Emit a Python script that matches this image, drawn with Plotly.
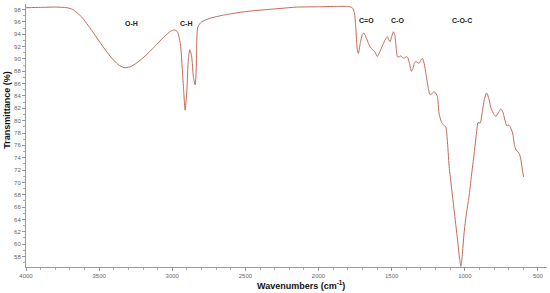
import plotly.graph_objects as go

wavenumber = [4000, 3900, 3800, 3720, 3680, 3620, 3550, 3480, 3420, 3370, 3330, 3290, 3240, 3180,
              3120, 3060, 3010, 2985, 2965, 2945, 2925, 2912, 2900, 2890, 2880, 2868, 2855, 2843,
              2835, 2825, 2800, 2740, 2650, 2550, 2450, 2350, 2250, 2150, 2000, 1900, 1800, 1770,
              1755, 1745, 1735, 1728, 1715, 1700, 1690, 1675, 1655, 1632, 1615, 1598, 1580, 1560,
              1540, 1529, 1518, 1511, 1500, 1488, 1478, 1468, 1461, 1450, 1438, 1425, 1415, 1400,
              1390, 1375, 1365, 1355, 1345, 1335, 1322, 1313, 1300, 1290, 1278, 1265, 1250, 1238,
              1225, 1210, 1195, 1187, 1176, 1160, 1146, 1130, 1120, 1107, 1090, 1073, 1050, 1035,
              1027, 1018, 1005, 990, 971, 955, 936, 920, 909, 895, 880, 865, 851, 838, 820, 800,
              787, 770, 753, 738, 725, 712, 700, 690, 673, 660, 650, 635, 625, 616, 605, 598]
transmittance = [98.3, 98.35, 98.4, 98.3, 98.0, 96.8, 94.6, 92.2, 90.3, 89.1, 88.6, 88.7, 89.4, 90.6,
                 92.0, 93.5, 94.5, 94.7, 94.4, 92.5, 86.0, 81.7, 85.0, 90.0, 91.5, 90.5, 87.0, 85.8,
                 89.0, 95.2, 96.0, 96.6, 97.1, 97.5, 97.8, 98.0, 98.2, 98.4, 98.45, 98.5, 98.5, 98.3,
                 97.5, 95.0, 91.5, 90.9, 92.5, 94.0, 94.2, 93.5, 92.3, 91.5, 91.2, 90.4, 91.2, 92.3,
                 93.3, 93.6, 93.0, 92.8, 93.6, 94.4, 93.8, 91.5, 90.4, 90.3, 90.5, 90.2, 90.1, 90.4,
                 90.2, 89.0, 88.0, 88.4, 89.3, 89.6, 89.4, 89.3, 89.8, 90.1, 89.3, 87.5, 85.3, 84.2,
                 84.4, 84.7, 84.3, 83.9, 81.2, 79.8, 79.3, 79.0, 77.0, 72.6, 69.0, 65.5, 60.8, 57.5,
                 56.4, 58.0, 61.8, 64.8, 67.7, 71.0, 74.7, 78.0, 79.7, 79.6, 81.5, 83.6, 84.5, 83.8,
                 82.0, 81.0, 80.7, 81.3, 81.9, 81.3, 80.0, 79.15, 79.3, 79.0, 78.0, 76.0, 75.3, 74.9,
                 74.5, 73.6, 71.8, 70.9]

band_labels = ["O-H", "C-H", "C=O", "C-O", "C-O-C"]
band_x = [3280, 2905, 1670, 1460, 1020]
band_y = [95.8, 95.8, 96.2, 96.2, 96.2]

fig = go.Figure()
fig.add_trace(go.Scatter(x=wavenumber, y=transmittance, mode="lines",
                         line=dict(color="#c26a58", width=1, shape="spline", smoothing=0.6),
                         showlegend=False, hoverinfo="skip"))

for t, x, y in zip(band_labels, band_x, band_y):
    fig.add_annotation(x=x, y=y, text="<b>" + t + "</b>", showarrow=False,
                       font=dict(family="Liberation Sans, Arial", size=7, color="#222"))

fig.add_annotation(xref="paper", yref="paper", x=0.527, y=-0.068, yanchor="middle",
                   text="<b>Wavenumbers (cm<sup>-1</sup>)</b>", showarrow=False,
                   font=dict(family="Liberation Sans, Arial", size=9, color="#111"))
fig.add_annotation(xref="paper", yref="paper", x=-0.037, y=0.597, textangle=-90,
                   xanchor="center", yanchor="middle",
                   text="<b>Transmittance (%)</b>", showarrow=False,
                   font=dict(family="Liberation Sans, Arial", size=9, color="#111"))

tickfont = dict(family="Liberation Sans, Arial", size=6, color="#666")
fig.update_layout(
    width=550, height=293,
    margin=dict(l=26, r=3, t=4, b=26, autoexpand=False),
    paper_bgcolor="white", plot_bgcolor="white",
    xaxis=dict(range=[4000, 438], showgrid=False, zeroline=False, automargin=False,
               showline=True, linecolor="#999", linewidth=1,
               tickmode="array", tickvals=[4000, 3500, 3000, 2500, 2000, 1500, 1000, 500],
               ticks="outside", ticklen=3, tickcolor="#999", tickfont=tickfont,
               minor=dict(dtick=100, ticks="outside", ticklen=2, tickcolor="#aaa")),
    yaxis=dict(range=[56.3, 98.9], showgrid=False, zeroline=False, automargin=False,
               showline=True, linecolor="#999", linewidth=1,
               tickmode="array", tickvals=list(range(58, 99, 2)),
               ticks="outside", ticklen=3, tickcolor="#999", tickfont=tickfont,
               minor=dict(dtick=1, ticks="outside", ticklen=2, tickcolor="#aaa")),
)

fig.write_html("out.html", config={"displayModeBar": False},
               post_script="document.body.style.margin='0';document.body.style.overflow='hidden';")
